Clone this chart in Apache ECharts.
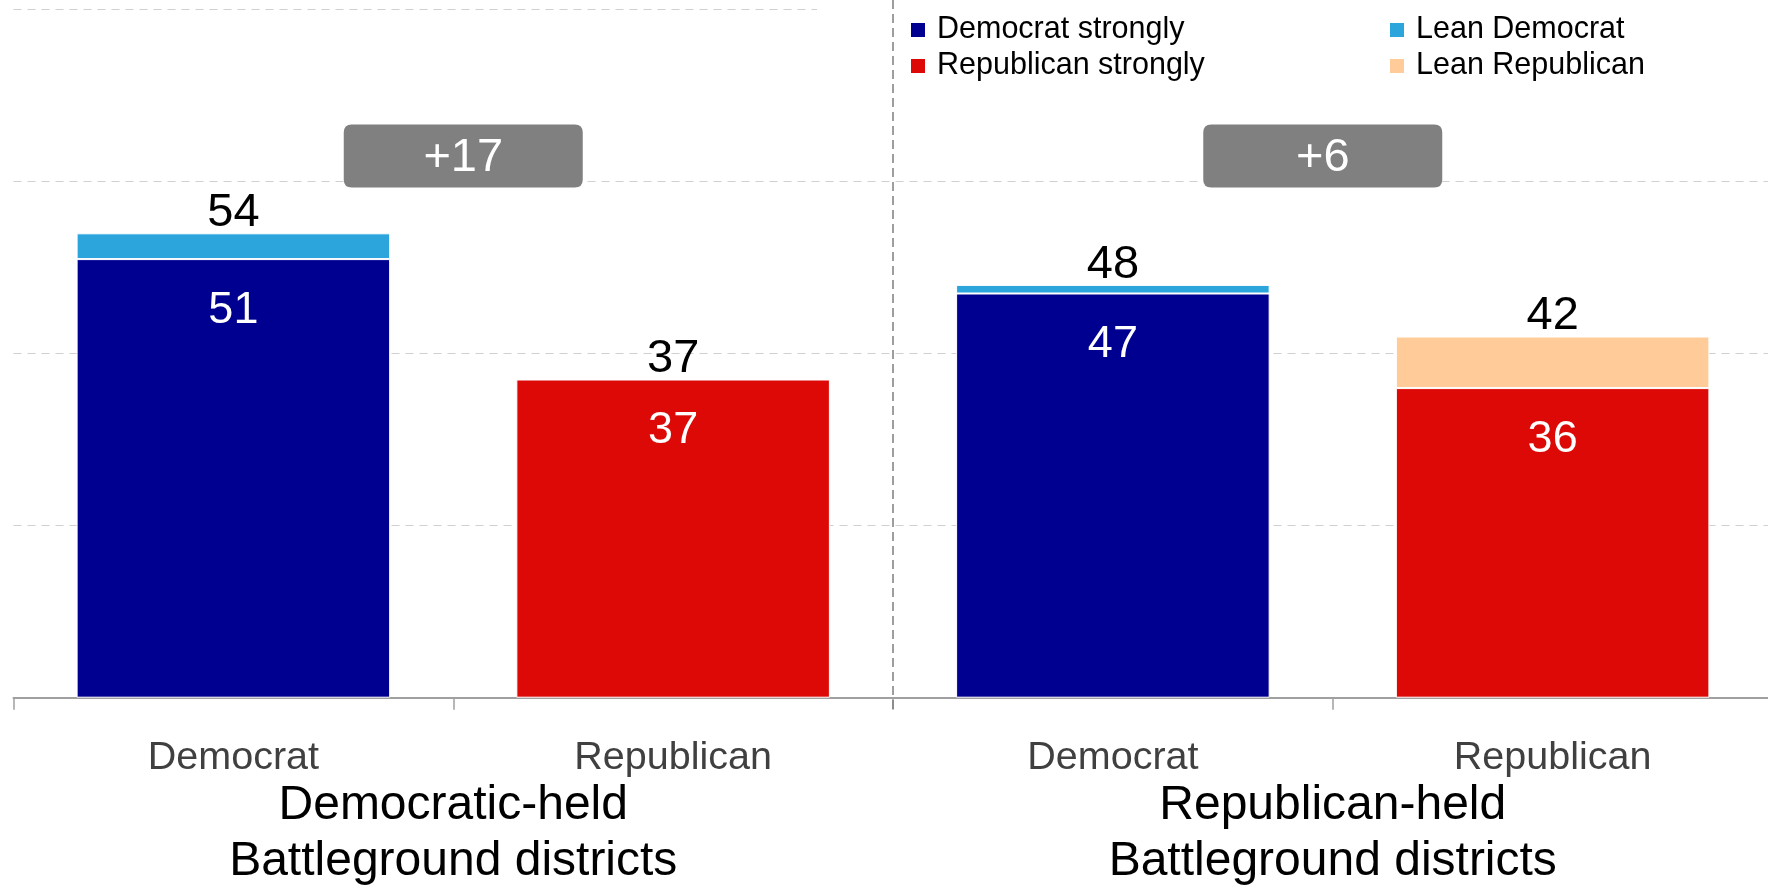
<!DOCTYPE html>
<html><head><meta charset="utf-8">
<script src="https://cdn.jsdelivr.net/npm/echarts@6/dist/echarts.min.js"></script>
<style>html,body{margin:0;padding:0;background:#fff}#c{width:1768px;height:885px}</style>
</head><body><div id="c"></div>
<script>
// ---- data ----
const categories = ['Democrat', 'Republican', 'Democrat', 'Republican'];
const groups = ['Democratic-held\nBattleground districts', 'Republican-held\nBattleground districts'];
const demStrong = [51, '-', 47, '-'];
const leanDem   = [3, '-', 1, '-'];
const repStrong = ['-', 37, '-', 36];
const leanRep   = ['-', 0, '-', 6];
const totals    = [54, 37, 48, 42];
const margins   = ['+17', '+6'];

// ---- style constants ----
const FONT = '"Liberation Sans", Arial, sans-serif';
const badgeOffsets = [10, -10];
const BADGE_Y = 63;
const badgePath = 'path://M8,0 H231 Q239,0 239,8 V55 Q239,63 231,63 H8 Q0,63 0,55 V8 Q0,0 8,0 Z';

const chart = echarts.init(document.getElementById('c'), null, {renderer: 'canvas'});

const strongLabel = {show: true, position: 'insideTop', distance: 29, color: '#fff', fontSize: 45, fontFamily: FONT};
const totalLabel = {show: true, position: 'top', distance: -3.5, color: '#000', fontSize: 47, fontFamily: FONT,
  formatter: p => totals[p.dataIndex]};

const legendBase = {orient: 'vertical', top: 14.5, padding: 0, itemWidth: 16, itemHeight: 16, itemGap: 5,
  icon: 'rect', selectedMode: false,
  textStyle: {fontSize: 30.5, lineHeight: 30, color: '#000', fontFamily: FONT, padding: [0, 0, 0, 6]}};

const option = {
  animation: false,
  backgroundColor: '#fff',
  textStyle: {fontFamily: FONT},
  grid: {left: 13.5, width: 1759, top: 9.7, bottom: 187.3, containLabel: false, outerBoundsMode: 'none'},
  legend: [
    Object.assign({}, legendBase, {left: 909, data: ['Democrat strongly', 'Republican strongly']}),
    Object.assign({}, legendBase, {left: 1388, data: ['Lean Democrat', 'Lean Republican']})
  ],
  xAxis: [
    {type: 'category', data: categories, position: 'bottom',
     axisLine: {show: true, lineStyle: {color: '#a0a0a0', width: 2}},
     axisTick: {show: true, length: 12, lineStyle: {color: '#a0a0a0', width: 1.5}},
     axisLabel: {interval: 0, margin: 40, fontSize: 39.5, lineHeight: 40, color: '#404040', fontFamily: FONT},
     splitLine: {show: false}},
    {type: 'category', data: groups, position: 'bottom',
     axisLine: {show: false}, axisTick: {show: false},
     axisLabel: {interval: 0, margin: 80, fontSize: 48, lineHeight: 56, color: '#000', fontFamily: FONT},
     splitLine: {show: false}}
  ],
  yAxis: {type: 'value', min: 0, max: 80, interval: 20,
    axisLine: {show: false}, axisTick: {show: false}, axisLabel: {show: false},
    splitLine: {show: true, lineStyle: {color: '#d0d0d0', width: 1, type: [8, 6]}}},
  series: [
    {name: 'Democrat strongly', type: 'bar', stack: 'v', barWidth: '71.3%', data: demStrong,
     itemStyle: {color: '#000090', borderColor: '#fff', borderWidth: 1}, label: strongLabel},
    {name: 'Lean Democrat', type: 'bar', stack: 'v', barWidth: '71.3%', data: leanDem,
     itemStyle: {color: '#2ca5dc', borderColor: '#fff', borderWidth: 1}, label: totalLabel},
    {name: 'Republican strongly', type: 'bar', stack: 'v', barWidth: '71.3%', data: repStrong,
     itemStyle: {color: '#dd0906', borderColor: '#fff', borderWidth: 1}, label: strongLabel},
    {name: 'Lean Republican', type: 'bar', stack: 'v', barWidth: '71.3%', data: leanRep,
     itemStyle: {color: '#ffcc99', borderColor: '#fff', borderWidth: 1}, label: totalLabel},
    {name: 'badge', type: 'scatter', xAxisIndex: 1, yAxisIndex: 0, silent: true, z: 5,
     symbol: badgePath, symbolSize: [239, 63],
     itemStyle: {color: '#808080', opacity: 1},
     label: {show: true, position: 'inside', color: '#fff', fontSize: 47, fontFamily: FONT, offset: [0, 2],
       formatter: p => margins[p.dataIndex]},
     data: groups.map((g, i) => ({value: [i, BADGE_Y], symbolOffset: [badgeOffsets[i], 0]}))}
  ]
};
chart.setOption(option);

const xa = chart.convertToPixel({xAxisIndex: 0}, 1);
const xb = chart.convertToPixel({xAxisIndex: 0}, 2);
const xd = (xa + xb) / 2;
const y0 = chart.convertToPixel({yAxisIndex: 0}, 0);
chart.setOption({graphic: [
  {type: 'rect', silent: true, z: 5, shape: {x: 817, y: 0, width: 1000, height: 16}, style: {fill: '#fff'}},
  {type: 'line', silent: true, z: 6, shape: {x1: xd, y1: 0, x2: xd, y2: y0 + 12},
   style: {stroke: '#7f7f7f', lineWidth: 1.5, lineDash: [9, 5]}}
]});
</script>
</body></html>
